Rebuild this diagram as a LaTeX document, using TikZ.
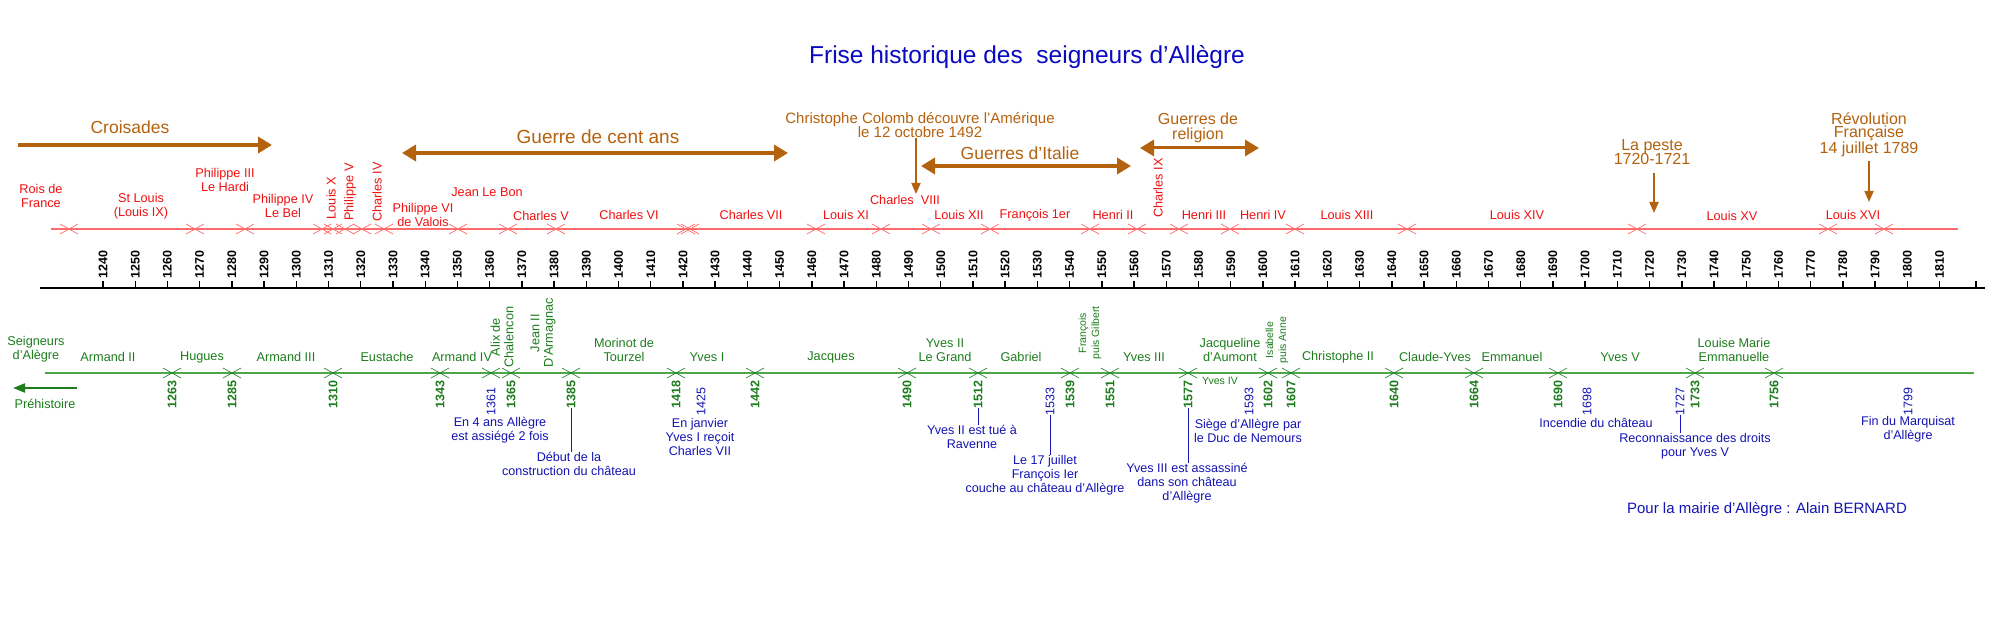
\documentclass[tikz,border=0pt]{standalone}
\usepackage{fontspec}
\setmainfont{Liberation Sans}
\usetikzlibrary{arrows.meta}
\definecolor{rk}{HTML}{F01010}
\definecolor{rl}{HTML}{FF6A6A}
\definecolor{ok}{HTML}{B5620E}
\definecolor{gk}{HTML}{1D7D1D}
\definecolor{gl}{HTML}{4CA64C}
\definecolor{bk}{HTML}{1414B4}
\definecolor{tk}{HTML}{0A0AC0}
\begin{document}
\begin{tikzpicture}[x=1pt,y=-1pt,
  roi/.style={text=rk,font=\fontsize{12.7}{13.5}\selectfont,align=center,inner sep=0pt},
  sei/.style={text=gk,font=\fontsize{12.7}{13.5}\selectfont,align=center,inner sep=0pt},
  evt/.style={text=bk,font=\fontsize{12.6}{14}\selectfont,align=center,inner sep=0pt},
  big/.style={text=ok,font=\fontsize{17.5}{14}\selectfont,align=center,inner sep=0pt},
  mid/.style={text=ok,font=\fontsize{15}{14}\selectfont,align=center,inner sep=0pt},
  yr/.style={font=\bfseries\fontsize{12.5}{12}\selectfont,rotate=90,anchor=east,inner sep=0pt},
  thick arrow/.style={draw=ok,line width=3.5pt,-{Triangle[length=14pt,width=16pt]}},
  dbl arrow/.style={draw=ok,line width=3.5pt,{Triangle[length=14pt,width=16pt]}-{Triangle[length=14pt,width=16pt]}},
  thin arrow/.style={draw=ok,line width=1.8pt,-{Triangle[length=11pt,width=9pt]}},
  link/.style={draw=bk,line width=0.8pt}]
\useasboundingbox (0,0) rectangle (2000,620);
\fill[white] (0,0) rectangle (2000,620);
% title
\node[text=tk,font=\fontsize{24.5}{28}\selectfont] (title) at (1027,57) {Frise historique des \ seigneurs d’Allègre};
% orange events
\node[big] (cro) at (130,127) {Croisades};
\coordinate (cro1) at (18,145); \coordinate (cro2) at (272,145);
\draw[thick arrow] (cro1) -- (cro2);
\node[big,font=\fontsize{19}{14}\selectfont] (cent) at (598,137) {Guerre de cent ans};
\coordinate (cent1) at (402,153); \coordinate (cent2) at (788,153);
\draw[dbl arrow] (cent1) -- (cent2);
\node[mid] (colomb) at (920,125) {Christophe Colomb découvre l’Amérique\\le 12 octobre 1492};
\coordinate (colombB) at (916,194);
\draw[thin arrow] (colomb.south -| colombB) -- (colombB);
\node[big] (ita) at (1020,153) {Guerres d’Italie};
\coordinate (ita1) at (921,166); \coordinate (ita2) at (1131,166);
\draw[dbl arrow] (ita1) -- (ita2);
\node[mid,font=\fontsize{16}{15}\selectfont] (rel) at (1198,128) {Guerres de\\religion};
\coordinate (rel1) at (1140,148); \coordinate (rel2) at (1259,148);
\draw[dbl arrow,line width=3pt] (rel1) -- (rel2);
\node[mid,font=\fontsize{16}{14.5}\selectfont] (peste) at (1652,152) {La peste\\1720-1721};
\coordinate (pesteB) at (1654,213);
\draw[thin arrow] (1654,173) -- (pesteB);
\node[mid,font=\fontsize{16}{12.5}\selectfont] (revo) at (1869,135) {Révolution\\Française\\14 juillet 1789};
\coordinate (revoB) at (1869,202);
\draw[thin arrow] (1869,161) -- (revoB);
% red line
\draw[rl,line width=1.2pt] (51,229) -- (1958,229);
\foreach \x in {69,195,245,322,333,345,362,384,458,508,556,686,690,816,881,931,990,1090,1137,1179,1230,1295,1407,1637,1828,1884}
  \draw[rl,line width=0.7pt] ({\x-9},224) -- ({\x+9},234) ({\x-9},234) -- ({\x+9},224);
% kings
\node[roi] (r0) at (41,196) {Rois de\\France};
\node[roi] (r1) at (141,206) {St Louis\\(Louis IX)};
\node[roi] (r2) at (225,180) {Philippe III\\Le Hardi};
\node[roi] (r3) at (283,206) {Philippe IV\\Le Bel};
\node[roi,rotate=90] (r4) at (331,198) {Louis X};
\node[roi,rotate=90] (r5) at (350,192) {Philippe V};
\node[roi,rotate=90] (r6) at (377,192) {Charles IV};
\node[roi] (r7) at (423,215) {Philippe VI\\de Valois};
\node[roi] (r8) at (487,192) {Jean Le Bon};
\node[roi] (r9) at (541,216) {Charles V};
\node[roi] (r10) at (629,215) {Charles VI};
\node[roi] (r11) at (751,215) {Charles VII};
\node[roi] (r12) at (846,215) {Louis XI};
\node[roi] (r13) at (905,200) {Charles \ VIII};
\node[roi] (r14) at (959,215) {Louis XII};
\node[roi] (r15) at (1035,215) {François 1er};
\node[roi] (r16) at (1113,215) {Henri II};
\node[roi,rotate=90] (r17) at (1158,188) {Charles IX};
\node[roi] (r18) at (1204,215) {Henri III};
\node[roi] (r19) at (1263,215) {Henri IV};
\node[roi] (r20) at (1347,215) {Louis XIII};
\node[roi] (r21) at (1517,215) {Louis XIV};
\node[roi] (r22) at (1732,216) {Louis XV};
\node[roi] (r23) at (1853,215) {Louis XVI};
% axis
\draw[black,line width=1.6pt] (40,288) -- (1985,288);
\foreach \yr [count=\i from 0] in {1240,1250,...,1810}{
  \draw[line width=1.4pt] ({103+\i*32.22},281) -- ({103+\i*32.22},288);
  \node[yr] (y\yr) at ({103+\i*32.22},250) {\yr};
}
\draw[line width=1.4pt] (1976,281) -- (1976,288);
% green line
\draw[gl,line width=1.4pt] (45,373) -- (1974,373);
\foreach \x in {172,232,333,440,491,511,571,676,755,907,978,1070,1110,1188,1268,1291,1394,1474,1558,1695,1774}
  \draw[gk,line width=0.6pt] ({\x-9},368) -- ({\x+9},378) ({\x-9},378) -- ({\x+9},368);
% lords
\node[sei] (s0) at (36,349) {Seigneurs\\d’Alègre};
\node[sei] (s1) at (108,357) {Armand II};
\node[sei] (s2) at (202,357) {Hugues};
\node[sei] (s3) at (286,357) {Armand III};
\node[sei] (s4) at (387,357) {Eustache};
\node[sei] (s5) at (462,357) {Armand IV};
\node[sei,rotate=90] (s6) at (502,337) {Alix de\\Chalencon};
\node[sei,rotate=90] (s7) at (543,333) {Jean II\\D’Armagnac};
\node[sei] (s8) at (624,350) {Morinot de\\Tourzel};
\node[sei] (s9) at (707,357) {Yves I};
\node[sei] (s10) at (831,357) {Jacques};
\node[sei] (s11) at (945,350) {Yves II\\Le Grand};
\node[sei] (s12) at (1021,357) {Gabriel};
\node[sei,rotate=90,font=\fontsize{10.5}{13}\selectfont] (s13) at (1090,333) {François\\puis Gilbert};
\node[sei] (s14) at (1144,357) {Yves III};
\node[sei] (s15) at (1230,350) {Jacqueline\\d’Aumont};
\node[sei,rotate=90,font=\fontsize{10.5}{13}\selectfont] (s16) at (1277,340) {Isabelle\\puis Anne};
\node[sei] (s17) at (1338,357) {Christophe II};
\node[sei] (s18) at (1435,357) {Claude-Yves};
\node[sei] (s19) at (1512,357) {Emmanuel};
\node[sei] (s20) at (1620,357) {Yves V};
\node[sei] (s21) at (1734,350) {Louise Marie\\Emmanuelle};
\node[sei,font=\fontsize{10.5}{12}\selectfont] (s22) at (1220,381) {Yves IV};
\coordinate (pre1) at (77,388); \coordinate (pre2) at (13,388);
\draw[gk,line width=2pt,-{Triangle[length=12pt,width=9pt]}] (pre1) -- (pre2);
\node[sei] (pre) at (45,404) {Préhistoire};
% green years
\foreach \x/\t in {172/1263,232/1285,333/1310,440/1343,511/1365,571/1385,676/1418,755/1442,907/1490,978/1512,1070/1539,1110/1551,1188/1577,1268/1602,1291/1607,1394/1640,1474/1664,1558/1690,1695/1733,1774/1756}
  \node[yr,text=gk] (g\t) at (\x,380) {\t};
\foreach \x/\t in {491/1361,701/1425,1050/1533,1249/1593,1587/1698,1680/1727,1908/1799}
  \node[yr,text=bk,font=\fontsize{12.5}{12}\selectfont] (b\t) at (\x,387) {\t};
% events
\node[evt] (e1) at (500,430) {En 4 ans Allègre\\est assiégé 2 fois};
\node[evt] (e2) at (569,464) {Début de la\\construction du château};
\draw[link] (g1385.west) -- (e2.north -| g1385.west);
\node[evt] (e3) at (700,437) {En janvier\\Yves I reçoit\\Charles VII};
\node[evt] (e4) at (972,437) {Yves II est tué à\\Ravenne};
\draw[link] (g1512.west) -- (e4.north -| g1512.west);
\node[evt] (e5) at (1045,475) {Le 17 juillet\\François Ier\\couche au château d’Allègre};
\draw[link] (b1533.west) -- (e5.north -| b1533.west);
\node[evt] (e6) at (1187,483) {Yves III est assassiné\\dans son château\\d’Allègre};
\draw[link] (g1577.west) -- (e6.north -| g1577.west);
\node[evt] (e7) at (1248,431) {Siège d’Allègre par\\le Duc de Nemours};
\node[evt] (e8) at (1596,423) {Incendie du château};
\node[evt] (e9) at (1695,446) {Reconnaissance des droits\\pour Yves V};
\draw[link] (b1727.west) -- (e9.north -| b1727.west);
\node[evt] (e10) at (1908,429) {Fin du Marquisat\\d’Allègre};
\node[evt,font=\fontsize{15}{16}\selectfont] (sig) at (1767,510) {Pour la mairie d’Allègre : Alain BERNARD};
\end{tikzpicture}
\end{document}
